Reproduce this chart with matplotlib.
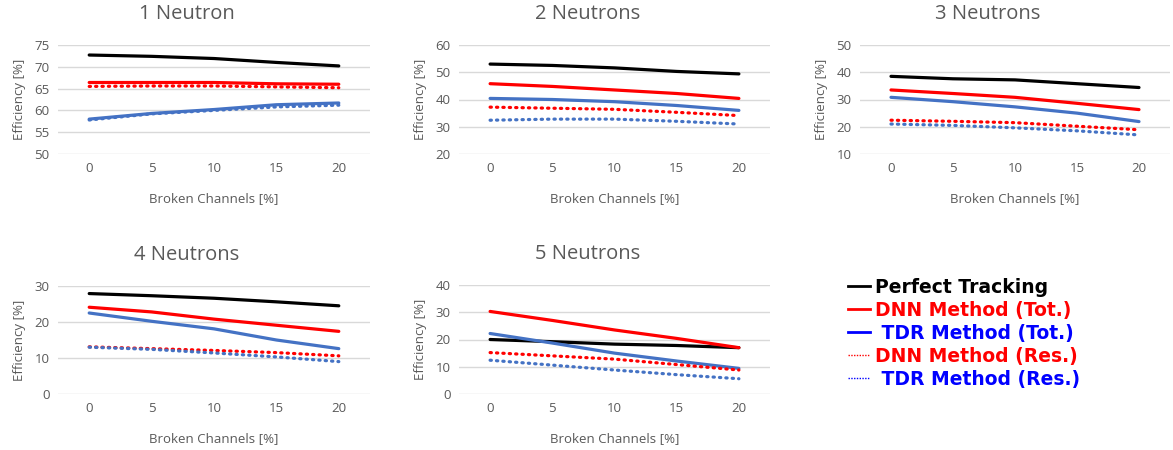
import matplotlib.pyplot as plt
from matplotlib.lines import Line2D

# broken channels [%]
x = [0, 5, 10, 15, 20]

titles = ['1 Neutron', '2 Neutrons', '3 Neutrons', '4 Neutrons', '5 Neutrons']

perfect = [
    [72.7, 72.4, 71.9, 71.0, 70.2],
    [53.0, 52.5, 51.6, 50.3, 49.4],
    [38.5, 37.6, 37.2, 35.8, 34.4],
    [27.9, 27.3, 26.6, 25.6, 24.5],
    [20.0, 19.2, 18.3, 17.8, 17.0],
]
dnn_tot = [
    [66.4, 66.4, 66.4, 66.1, 66.0],
    [45.8, 44.8, 43.5, 42.2, 40.4],
    [33.5, 32.2, 30.8, 28.6, 26.3],
    [24.1, 22.8, 20.8, 19.1, 17.4],
    [30.3, 27.0, 23.5, 20.4, 17.0],
]
tdr_tot = [
    [58.0, 59.3, 60.2, 61.3, 61.7],
    [40.4, 40.0, 39.2, 37.8, 36.0],
    [30.8, 29.2, 27.3, 25.0, 21.9],
    [22.5, 20.2, 18.1, 15.0, 12.6],
    [22.2, 18.7, 15.0, 12.1, 9.4],
]
dnn_res = [
    [65.5, 65.6, 65.6, 65.4, 65.2],
    [37.2, 36.8, 36.4, 35.3, 34.1],
    [22.4, 22.0, 21.5, 20.2, 18.9],
    [13.1, 12.6, 12.1, 11.5, 10.6],
    [15.2, 14.0, 12.8, 10.8, 8.8],
]
tdr_res = [
    [57.8, 59.2, 60.0, 60.8, 61.2],
    [32.4, 32.8, 32.8, 32.0, 31.0],
    [21.0, 20.5, 19.6, 18.5, 17.0],
    [13.0, 12.4, 11.4, 10.3, 9.0],
    [12.4, 10.6, 8.8, 7.1, 5.6],
]

y_ticks = [
    [50, 55, 60, 65, 70, 75],
    [20, 30, 40, 50, 60],
    [10, 20, 30, 40, 50],
    [0, 10, 20, 30],
    [0, 10, 20, 30, 40],
]

W, H = 1173, 450
# plot areas in pixels: left, top, right, bottom
boxes = [
    (58, 45, 370, 154),
    (459, 45, 770, 154),
    (860, 45, 1170, 154),
    (58, 286, 370, 394),
    (459, 285, 770, 394),
]

blue = '#4472C4'
red = '#FF0000'
grey = '#595959'
font = 'Open Sans'

fig = plt.figure(figsize=(W / 100, H / 100), dpi=100)

for i in range(5):
    l, t, r, b = boxes[i]
    ax = fig.add_axes([l / W, 1 - b / H, (r - l) / W, (b - t) / H])
    ax.plot(x, perfect[i], color='black', lw=2.3, solid_capstyle='round')
    ax.plot(x, dnn_tot[i], color=red, lw=2.3, solid_capstyle='round')
    ax.plot(x, tdr_tot[i], color=blue, lw=2.3, solid_capstyle='round')
    ax.plot(x, dnn_res[i], color=red, lw=2.3, linestyle=(0, (0.4, 1.6)), dash_capstyle='round')
    ax.plot(x, tdr_res[i], color=blue, lw=2.3, linestyle=(0, (0.4, 1.6)), dash_capstyle='round')

    ax.set_xlim(-2.5, 22.5)
    ax.set_ylim(y_ticks[i][0], y_ticks[i][-1])
    ax.set_xticks(x)
    ax.set_yticks(y_ticks[i])
    ax.grid(axis='y', color='#d9d9d9', lw=1)
    ax.set_axisbelow(True)
    for s in ax.spines.values():
        s.set_visible(False)
    ax.tick_params(length=0, labelsize=9.5, labelcolor=grey, pad=6)
    for lab in ax.get_xticklabels() + ax.get_yticklabels():
        lab.set_fontfamily(font)
    ax.set_xlabel('Broken Channels [%]', fontsize=9.5, color=grey, family=font, labelpad=12)
    ax.set_ylabel('Efficiency [%]', fontsize=9.5, color=grey, family=font, labelpad=6)
    ax.set_title(titles[i], fontsize=14.5, color=grey, family=font, pad=18.5, x=0.413)

# legend
handles = [
    Line2D([], [], color='black', lw=2),
    Line2D([], [], color=red, lw=2),
    Line2D([], [], color='blue', lw=2),
    Line2D([], [], color=red, lw=1, linestyle=(0, (1, 1))),
    Line2D([], [], color='blue', lw=1, linestyle=(0, (1, 1))),
]
labels = ['Perfect Tracking', 'DNN Method (Tot.)', ' TDR Method (Tot.)',
          'DNN Method (Res.)', ' TDR Method (Res.)']
leg = fig.legend(handles, labels, loc='upper left', bbox_to_anchor=(831 / W, 1 - 261 / H),
                 frameon=False, prop={'family': 'DejaVu Sans', 'weight': 'bold', 'size': 13.5},
                 handlelength=1.2, handletextpad=0.25, labelspacing=0.21)
for txt, c in zip(leg.get_texts(), ['black', red, 'blue', red, 'blue']):
    txt.set_color(c)

fig.savefig('out.png', dpi=100, facecolor='white')
